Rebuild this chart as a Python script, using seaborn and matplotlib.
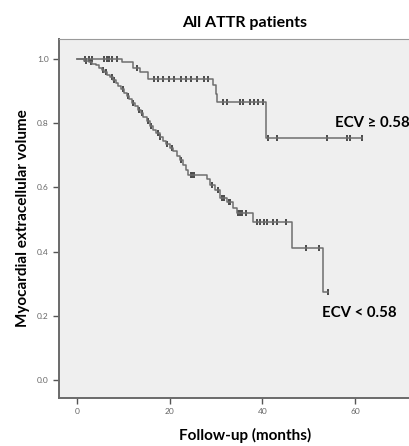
import numpy as np
import pandas as pd
import seaborn as sns
import matplotlib
matplotlib.use('Agg')
from matplotlib import pyplot as plt

# ECV >= 0.58 group: event times (months) and survival after each drop
high_times = [9.6, 12.1, 13.6, 15.3, 29.4, 29.9, 30.3, 40.7]
high_surv = [0.99, 0.973, 0.96, 0.938, 0.92, 0.89, 0.867, 0.753]
high_end = 61.5
high_censor = [1.7, 2.5, 3.3, 5.8, 6.4, 7.0, 7.6, 8.6, 13.0, 16.5, 17.4, 18.5, 19.8,
               20.9, 22.5, 23.5, 24.5, 25.8, 27.3, 28.3, 31.5, 32.4, 35.2, 35.8,
               37.3, 38.2, 39.0, 40.1, 41.2, 43.1, 53.9, 58.3, 59.0, 61.5]

# ECV < 0.58 group
low_times = [1.5, 2.5, 3.3, 4.0, 4.7, 5.3, 5.9, 6.5, 7.1, 7.7, 8.3, 8.9, 9.5, 10.1,
             10.7, 11.3, 11.9, 12.5, 13.1, 13.7, 14.3, 15.0, 15.7, 16.4, 17.1, 17.8,
             18.5, 19.2, 20.0, 20.8, 21.5, 22.2, 22.9, 23.5, 24.0, 28.0, 28.8, 29.8,
             30.9, 32.4, 33.7, 34.5, 38.0, 46.3, 53.1]
low_surv = [0.995, 0.99, 0.985, 0.98, 0.973, 0.966, 0.958, 0.95, 0.943, 0.935, 0.925,
            0.915, 0.905, 0.895, 0.885, 0.874, 0.864, 0.853, 0.842, 0.831, 0.82, 0.806,
            0.792, 0.78, 0.768, 0.756, 0.745, 0.735, 0.724, 0.712, 0.699, 0.686, 0.67,
            0.655, 0.639, 0.625, 0.607, 0.592, 0.567, 0.555, 0.536, 0.52, 0.493, 0.41,
            0.275]
low_end = 54.2
low_censor = [2.0, 3.0, 5.5, 6.2, 7.5, 8.0, 10.0, 11.0, 12.0, 13.3, 14.0, 15.3, 16.0,
              17.5, 18.0, 19.5, 20.5, 22.5, 24.5, 24.8, 25.3, 29.2, 30.5, 31.3, 31.8,
              32.8, 33.1, 34.8, 35.2, 35.6, 36.5, 38.8, 39.5, 40.3, 41.0, 42.2, 43.1,
              45.0, 49.4, 52.2, 54.2]

labels = ['ECV \u2265 0.58', 'ECV < 0.58']
line_col = '#6e6e6e'
mark_col = '#4a4a4a'


def stepframe(times, surv, end):
    x = [0] + list(times) + [end]
    y = [1.0] + list(surv) + [surv[-1]]
    return pd.DataFrame(dict(time=x, surv=y))


def censorframe(times, surv, censor):
    idx = np.searchsorted(times, censor, side='right')
    s = np.concatenate([[1.0], surv])[idx]
    return pd.DataFrame(dict(time=censor, surv=s))


plt.rcParams['font.family'] = ['Lato', 'DejaVu Sans']
fig = plt.figure(figsize=(4.09, 4.46), dpi=100)
ax = fig.add_axes([59 / 409, 48 / 446, (431 - 59) / 409, (398 - 39) / 446])
ax.set_facecolor('#efefef')

for times, surv, end, censor in [(high_times, high_surv, high_end, high_censor),
                                 (low_times, low_surv, low_end, low_censor)]:
    sdf = stepframe(times, surv, end)
    sns.lineplot(x='time', y='surv', data=sdf, drawstyle='steps-post', color=line_col,
                 linewidth=1.1, estimator=None, ax=ax)
    cdf = censorframe(times, surv, censor)
    sns.scatterplot(x='time', y='surv', data=cdf, marker='|', s=22, color=mark_col,
                    linewidth=1.4, ax=ax)

ax.set_xlim(-3.9, 76.4)
ax.set_ylim(-0.056, 1.062)
ax.set_xticks([0, 20, 40, 60])
ax.set_yticks([0.0, 0.2, 0.4, 0.6, 0.8, 1.0])
ax.set_yticklabels(['0.0', '0.2', '0.4', '0.6', '0.8', '1.0'])
ax.tick_params(labelsize=6, labelcolor='#666666', color='#555555', length=4, width=1.0)
for side in ['left', 'bottom']:
    ax.spines[side].set_color('#6a6a6a')
    ax.spines[side].set_linewidth(1.4)
ax.spines['top'].set_color('#9a9a9a')
ax.spines['right'].set_visible(False)

ax.set_xlabel('Follow-up (months)', fontsize=11, fontweight='bold', labelpad=9)
ax.set_ylabel('Myocardial extracellular volume', fontsize=11, fontweight='bold', labelpad=5)
ax.set_title('All ATTR patients', fontsize=11.5, fontweight='bold', pad=9)

ax.text(55.7, 0.80, labels[0], fontsize=10.8, fontweight='bold', va='center', ha='left')
ax.text(52.9, 0.21, labels[1], fontsize=10.8, fontweight='bold', va='center', ha='left')

fig.savefig('out.png', dpi=100, facecolor='white')
